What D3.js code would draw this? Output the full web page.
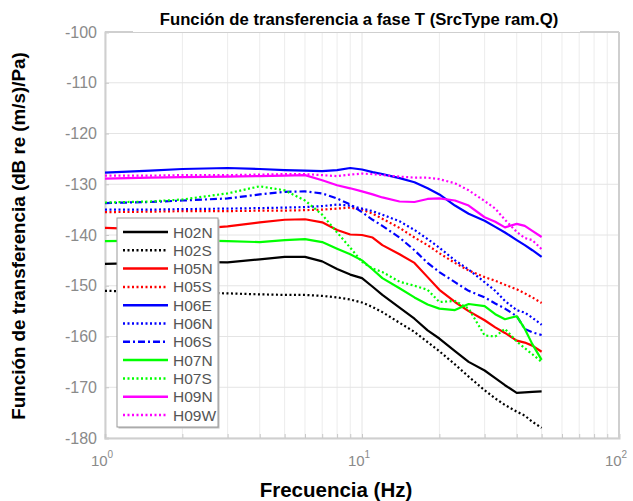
<!DOCTYPE html>
<html><head><meta charset="utf-8">
<script src="https://cdn.jsdelivr.net/npm/d3@7"></script>
<style>body{margin:0;background:#fff;font-family:"Liberation Sans",Arial,sans-serif;}</style>
</head><body><svg id="c" width="633" height="501"></svg>
<script>
const freqs = [1,1.5,2,3,4,5,6,7,8,9,10,11,12,14,16,18,20,23,26,30,33,36,40,43,46,50];
const H02N = [-145.7,-145.5,-145.3,-145.4,-144.8,-144.3,-144.3,-145.2,-146.7,-147.8,-148.5,-150.2,-151.8,-154.3,-156.5,-158.8,-160.4,-162.9,-165,-166.7,-168.2,-169.6,-171.1,-171,-170.9,-170.8];
const H02S = [-151,-151.2,-151.3,-151.5,-151.7,-151.8,-151.8,-152,-152.3,-152.7,-153.3,-154.2,-155.2,-157.3,-159.1,-161.1,-162.9,-165.5,-167.9,-170.6,-172.2,-173.5,-174.8,-175.6,-176.8,-178];
const H05N = [-138.6,-138.9,-139,-138.3,-137.5,-137,-136.9,-137.5,-139,-139.9,-140,-140.5,-142,-143.8,-145.5,-148.3,-150.8,-153.2,-155,-156.8,-158.2,-159.3,-160.8,-161.2,-161.8,-163];
const H05S = [-135.5,-135.4,-135.3,-135.3,-135.2,-135.2,-135.1,-135,-134.8,-134.6,-135,-135.8,-136.8,-138.6,-140.5,-142,-143.6,-145.5,-147,-148.3,-149,-149.8,-150.7,-151.5,-152.3,-153.4];
const H06E = [-127.7,-127.3,-127,-126.8,-127,-127.2,-127.3,-127.4,-127.2,-126.8,-127.1,-127.6,-128,-128.8,-129.6,-130.8,-132,-134.2,-135.8,-137.2,-138.4,-139.5,-141,-142,-143,-144.3];
const H06N = [-135,-135,-134.9,-134.8,-134.7,-134.6,-134.5,-134.3,-134,-134.2,-134.8,-135.3,-136,-137.3,-139,-140.8,-142.5,-145,-146.8,-149.3,-151,-153,-154.8,-155.3,-156.3,-157.7];
const H06S = [-133.7,-133.5,-133.2,-132.8,-132,-131.5,-131.4,-131.8,-132.8,-134,-135.5,-137,-138.2,-140.5,-143,-145.5,-147.3,-149.3,-151,-152.3,-153.5,-154.5,-156,-158.5,-159.2,-159.7];
const H07N = [-141.2,-141.1,-141,-141.2,-141.4,-141,-140.8,-141.4,-142.7,-143.8,-145,-146.8,-148.5,-150.5,-152.3,-153.7,-154.5,-154.8,-153.6,-154,-155.6,-156.6,-156,-158.5,-161.5,-164.6];
const H07S = [-133.6,-133.4,-133,-131.8,-130.4,-131.2,-133.2,-136,-139.5,-142.5,-145.3,-146.6,-147.3,-149.2,-150,-150.8,-153.2,-153,-154.5,-159.8,-160,-158.5,-161,-162.3,-163.5,-165];
const H09N = [-128.9,-128.7,-128.6,-128.5,-128.4,-128.3,-128.2,-129.2,-130.2,-130.8,-131.4,-132,-132.6,-133.4,-133.5,-132.9,-132.8,-133.2,-134.2,-136.5,-137.4,-138.5,-137.8,-138.2,-139.2,-140.4];
const H09W = [-128.3,-128.3,-128.2,-128.2,-128.1,-128,-128,-128.2,-128.4,-128.1,-127.9,-128,-128.2,-128.5,-128.7,-128.7,-129,-129.8,-131.2,-133.3,-134.8,-137,-139.4,-140.6,-141,-142.8];
const seriesNames = ["H02N","H02S","H05N","H05S","H06E","H06N","H06S","H07N","H07S","H09N","H09W"];
const seriesValues = [H02N,H02S,H05N,H05S,H06E,H06N,H06S,H07N,H07S,H09N,H09W];
const seriesColors = ["#000000","#000000","#ff0000","#ff0000","#0000ff","#0000ff","#0000ff","#00ff00","#00ff00","#ff00ff","#ff00ff"];
const seriesStyles = ["solid","dot","solid","dot","solid","dot","dashdot","solid","dot","solid","dot"];
const yTicks = [-100,-110,-120,-130,-140,-150,-160,-170,-180];
const xMajor = [1,10,100];
const xExps = ["0","1","2"];
const titleText = "Función de transferencia a fase T (SrcType ram.Q)";
const xLabelText = "Frecuencia (Hz)";
const yLabelText = "Función de transferencia (dB re (m/s)/Pa)";

const svg = d3.select("#c");
const L=105,R=619,T=32,B=438;
const x = d3.scaleLog().domain([1,100]).range([L,R]);
const y = d3.scaleLinear().domain([-180,-100]).range([B,T]);

// grid
const minor=[];
for(let d=1;d<100;d*=10) for(let k=2;k<=9;k++) minor.push(d*k);
const g = svg.append("g");
g.selectAll(".vm").data(minor).enter().append("line")
 .attr("x1",d=>x(d)).attr("x2",d=>x(d)).attr("y1",T).attr("y2",B)
 .attr("stroke","#ececec").attr("stroke-width",1);
g.selectAll(".vM").data(xMajor).enter().append("line")
 .attr("x1",d=>x(d)).attr("x2",d=>x(d)).attr("y1",T).attr("y2",B)
 .attr("stroke","#e4e4e4").attr("stroke-width",1);
g.selectAll(".h").data(yTicks).enter().append("line")
 .attr("x1",L).attr("x2",R).attr("y1",d=>y(d)).attr("y2",d=>y(d))
 .attr("stroke","#e4e4e4").attr("stroke-width",1);

// axes
const yAxis = d3.axisLeft(y).tickValues(yTicks).tickSize(-4).tickPadding(8).tickFormat(d=>String(d));
const ya = svg.append("g").attr("transform",`translate(${L},0)`).call(yAxis);
ya.select(".domain").attr("stroke","#cfcfcf").attr("stroke-width",2);
ya.selectAll(".tick line").attr("stroke","#c8c8c8");
ya.selectAll("text").attr("fill","#8a8a8a").style("font-size","16px").style("font-family","'Liberation Sans',Arial,sans-serif");

const xAxis = d3.axisBottom(x).tickValues(minor.concat(xMajor)).tickSize(-4).tickFormat("");
const xa = svg.append("g").attr("transform",`translate(0,${B})`).call(xAxis);
xa.select(".domain").attr("stroke","#cfcfcf").attr("stroke-width",2);
xa.selectAll(".tick line").attr("stroke","#c8c8c8");
// top / right box
svg.append("line").attr("x1",L).attr("x2",R).attr("y1",T).attr("y2",T).attr("stroke","#cfcfcf").attr("stroke-width",2);
svg.append("line").attr("x1",R).attr("x2",R).attr("y1",T).attr("y2",B).attr("stroke","#cfcfcf").attr("stroke-width",2);

// x major labels with superscripts
xMajor.forEach((v,i)=>{
  const t = svg.append("text").attr("x",x(v)-3).attr("y",B+28).attr("text-anchor","middle")
   .attr("fill","#8a8a8a").style("font-size","15px");
  t.append("tspan").text("10");
  t.append("tspan").attr("dy",-8).style("font-size","10px").text(xExps[i]);
});

// lines
const line = d3.line().x((d,i)=>x(freqs[i])).y(d=>y(d));
function dash(s){ return s==="dot"?"2,2.5":(s==="dashdot"?"7,3,2,3":null); }
seriesValues.forEach((vals,i)=>{
  svg.append("path").datum(vals).attr("d",line).attr("fill","none")
   .attr("stroke",seriesColors[i]).attr("stroke-width",2.2)
   .attr("stroke-dasharray",dash(seriesStyles[i])).attr("stroke-linejoin","round");
});

// title (white box)
svg.append("rect").attr("x",133).attr("y",3).attr("width",447).attr("height",29).attr("fill","#fff");
svg.append("text").attr("x",359).attr("y",25).attr("text-anchor","middle")
 .style("font-weight","bold").style("font-size","16.7px").attr("fill","#000").text(titleText);

// axis labels
svg.append("text").attr("x",336).attr("y",497).attr("text-anchor","middle")
 .style("font-weight","bold").style("font-size","20.5px").text(xLabelText);
svg.append("text").attr("transform","translate(25,236) rotate(-90)").attr("text-anchor","middle")
 .style("font-weight","bold").style("font-size","18.8px").text(yLabelText);

// legend
const lg = svg.append("g");
const lx=117, ly=218, lw=101, lh=209, step=18.3;
lg.append("rect").attr("x",lx+1.5).attr("y",ly+1.5).attr("width",lw).attr("height",lh).attr("fill","#bdbdbd");
lg.append("rect").attr("x",lx).attr("y",ly).attr("width",lw).attr("height",lh).attr("fill","#fff").attr("stroke","#9a9a9a").attr("stroke-width",1);
seriesNames.forEach((n,i)=>{
  const yy = ly+14+i*step;
  lg.append("line").attr("x1",lx+6).attr("x2",lx+51).attr("y1",yy).attr("y2",yy)
   .attr("stroke",seriesColors[i]).attr("stroke-width",2.5).attr("stroke-dasharray",dash(seriesStyles[i]));
  lg.append("text").attr("x",lx+56).attr("y",yy+5.5).style("font-size","15.5px").attr("fill","#555").text(n);
});
</script></body></html>
